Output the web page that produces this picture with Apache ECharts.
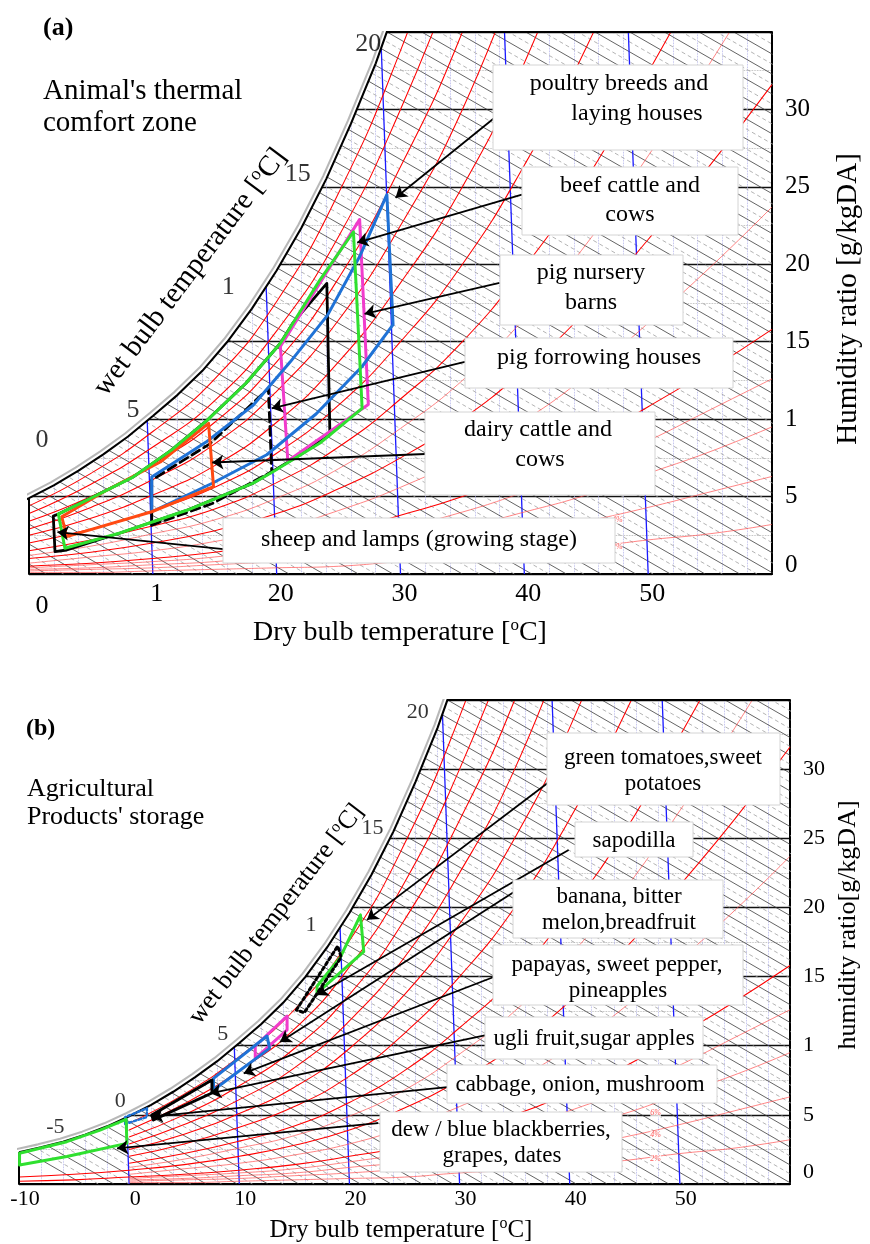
<!DOCTYPE html>
<html><head><meta charset="utf-8">
<script src="https://cdn.jsdelivr.net/npm/echarts@6.0.0/dist/echarts.min.js"></script>
<style>html,body{margin:0;padding:0;background:#fff;}#chart{width:870px;height:1244px;}</style>
</head><body><div id="chart"></div>
<script>
// ================= DATA =================
// saturation curve of the chart: dry bulb [°C] -> humidity ratio [g/kgDA]
const satT = [-10,-8,-6,-4,-2,0,2,4,6,8,10,12,14,16,18,20,22,24,26,28,30];
const satW = [2.3,2.65,3.06,3.57,4.17,4.9,5.72,6.67,7.73,8.88,10.2,11.57,13.12,14.98,17.14,19.6,22.36,25.5,29.08,32.98,37.5];
const satTopT = 28.9;                 // where the saturation curve meets the top frame

// relative humidity curves (red); most start at 0 °C, two run on below freezing
const rhT   = [0,5,10,15,20,25,30,35,40,45,50,55,60];
const rhTlo = [-10,-5,0,5,10,15,20,25,30,35,40,45,50,55,60];
const rh90 = [4.4,6.5,9.2,12.6,17.6,24.6,33.8,45];
const rh80 = [3.9,5.8,8.2,11.2,15.7,21.8,30.0,40];
const rh70 = [3.4,5.0,7.1,9.8,13.7,19.1,26.3,35,46];
const rh60 = [2.9,4.3,6.1,8.4,11.8,16.4,22.5,30,40];
const rh50 = [2.5,3.6,5.1,7.0,9.8,13.7,18.8,25,33,43];
const rh40 = [2.0,2.9,4.1,5.6,7.8,10.9,15.0,20,26.4,34,43];
const rh30 = [1.5,2.2,3.1,4.2,5.9,8.2,11.3,15,19.8,25.5,32.4,39.6];
const rh25 = [1.2,1.8,2.6,3.5,4.9,6.8,9.4,12.5,16.5,21.3,27,33,39.5];
const rh20 = [0.5,0.7,1.0,1.4,2.0,2.8,3.9,5.5,7.5,10,13.2,17,21.6,26.4,31.6];
const rh15 = [0.7,1.1,1.5,2.1,2.9,4.1,5.6,7.5,9.9,12.8,16.2,19.8,23.7];
const rh10 = [0.2,0.3,0.5,0.7,1.0,1.4,2.0,2.7,3.8,5.0,6.6,8.5,10.8,13.2,15.8];
const rh8  = [0.4,0.6,0.8,1.1,1.6,2.2,3.0,4.0,5.3,6.8,8.6,10.6,12.6];
const rh6  = [0.3,0.4,0.6,0.8,1.2,1.6,2.3,3.0,4.0,5.1,6.5,7.9,9.5];
const rh4  = [0.2,0.3,0.4,0.6,0.8,1.1,1.5,2.0,2.6,3.4,4.3,5.3,6.3];
const rh2  = [0.1,0.1,0.2,0.3,0.4,0.5,0.8,1.0,1.3,1.7,2.2,2.6,3.2];

// wet bulb / enthalpy lines: slope [g/kg per °C] and dry bulb where each meets w = 0
const wbSlope = 0.46;
const wbSolidT0 = [-4.2,-1.4,1.4,4.2,7,9.8,12.6,15.4,18.2,21,23.8,26.6,29.4,32.2,35,37.8,40.6,43.4,46.2,49,51.8,54.6,57.4,60.2,63,65.8,68.6,71.4,74.2,77,79.8,82.6,85.4,88.2,91,93.8,96.6,99.4,102.2,105,107.8,110.6,113.4,116.2,119,121.8,124.6,127.4,130.2,133,135.8,138.6];
const wbDashT0 = [-2.8,0,2.8,5.6,8.4,11.2,14,16.8,19.6,22.4,25.2,28,30.8,33.6,36.4,39.2,42,44.8,47.6,50.4,53.2,56,58.8,61.6,64.4,67.2,70,72.8,75.6,78.4,81.2,84,86.8,89.6,92.4,95.2,98,100.8,103.6,106.4,109.2,112,114.8,117.6,120.4,123.2,126,128.8,131.6,134.4,137.2];

// dry bulb lines (blue), slightly leaning: bottom temperature and shift at the top
const dryBulbT = [0,10,20,30,40,50];
const dryBulbLean = 1.6;

// ---- (a) animal comfort zones [dry bulb °C, humidity ratio g/kg] ----
const zoneSheepA   = [[1.96,3.74],[2.1,1.44],[3.05,1.55],[7.35,2.65],[12.8,4.13],[18.1,5.87],[21.9,7.7],[24.3,8.99],[24.05,18.77],[21.3,16.2],[20.3,14.9],[17.5,12.3],[14.4,9.94],[11.5,8.0],[8.4,6.26],[5,4.9],[2.37,3.87]];
const zoneForrowA  = [[9.91,3.16],[14.8,4.55],[19.6,6.6],[19.33,11.99],[14.6,8.4],[9.91,6.07]];
const zoneNurseryA = [[20.3,14.7],[20.9,7.3],[27.4,10.95],[26.7,22.9]];
const zonePoultryA = [[9.91,6.26],[14.3,8.52],[18.1,10.9],[21.1,13.7],[24.1,16.7],[26.7,20.5],[28.9,24.5],[29.4,16.1],[26.9,13.4],[23.2,10.35],[19.2,7.7],[14.8,5.86],[9.91,4.02]];
const zoneDairyA   = [[2.64,3.7],[3.05,2.41],[9.91,4.02],[14.9,5.64],[14.5,9.73],[10.6,7.23],[6.3,5.42]];
const zoneBeefA    = [[2.37,3.87],[5,4.9],[8.4,6.26],[11.5,8.0],[14.4,9.94],[17.5,12.3],[20.3,14.9],[23.5,19.0],[26.2,22.1],[26.7,14.0],[26.9,10.7],[23.5,8.46],[19.7,6.6],[18.1,5.87],[12.8,4.13],[7.35,2.65],[2.9,1.66]];

// ---- (b) storage zones ----
const zoneTomatoB  = [[21.0,19.45],[21.3,16.8],[17.06,13.8],[17.06,14.3],[19.18,16.4]];
const zoneSapoB    = [[15.18,12.58],[18.94,17.21],[19.25,16.39],[15.9,12.39]];
const zoneBananaB  = [[11.45,9.09],[11.45,9.98],[14.34,12.15],[14.34,11.14]];
const zonePapayaB  = [[7.66,6.8],[7.66,7.64],[12.52,10.7],[12.75,9.81]];
const zoneUgliB    = [[2.2,4.63],[2.06,4.99],[7.52,7.52],[7.52,6.58]];
const zoneCabbageB = [[-0.36,4.34],[-0.36,4.84],[1.61,5.47],[1.61,4.84]];
const zoneDewB     = [[-9.95,1.37],[-9.95,2.22],[-5.66,3.06],[-2.64,3.9],[-0.27,4.68],[-0.21,2.94],[-5.66,1.99]];

// tick labels
const xTicksA = {0:'0',10:'1',20:'20',30:'30',40:'40',50:'50'};
const yTicksA = {0:'0',5:'5',10:'1',15:'15',20:'20',25:'25',30:'30'};
const xTicksB = {'-10':'-10',0:'0',10:'10',20:'20',30:'30',40:'40',50:'50'};
const yTicksB = {0:'0',5:'5',10:'1',15:'15',20:'20',25:'25',30:'30'};

// ================= ANNOTATION LAYOUT =================
const FONT = "'Liberation Serif','Times New Roman',serif";
// wet bulb numbers along the saturation curve [text, T, w]
const wbLabelsA = [['20',27.4,34.2],['15',21.7,25.8],['1',16.1,18.5],['5',8.4,10.6],['0',1.05,8.65]];
const wbLabelsB = [['20',26.2,34.1],['15',22.1,25.7],['1',16.5,18.7],['5',8.5,10.8],['0',-0.8,6.0],['-5',-6.7,4.1]];
const rhTagsA = [['2%',47.5,1.75],['4%',47.5,3.5]];
const rhTagsB = [['2%',47.8,1.8],['4%',47.8,3.54],['6%',47.8,5.13]];
// arrows [from, to] in chart coordinates
const arrowsA = [[[37.5,29.4],[29.6,24.3]],[[39.8,24.5],[26.5,21.4]],[[38.0,18.8],[27.1,16.8]],[[35.2,13.7],[19.6,10.7]],[[32.0,7.75],[14.8,7.2]],[[15.7,1.6],[2.3,2.7]]];
const arrowsB = [[[38.0,29.0],[21.6,19.1]],[[39.9,24.15],[17.06,13.67]],[[34.9,21.1],[13.7,10.27]],[[33.1,14.97],[10.4,8.0]],[[32.4,10.77],[7.36,6.56]],[[28.9,7.0],[2.06,4.87]],[[22.6,4.4],[-1.1,2.58]]];

const chart = echarts.init(document.getElementById('chart'), null, {renderer:'canvas'});

const rhSets = [[rh90,1,rhT],[rh80,1,rhT],[rh70,1,rhT],[rh60,1,rhT],[rh50,1,rhT],[rh40,1,rhT],[rh30,1,rhT],[rh25,0,rhT],[rh20,1,rhTlo],[rh15,0,rhT],[rh10,1,rhTlo],[rh8,0,rhT],[rh6,0,rhT],[rh4,0,rhT],[rh2,0,rhT]];

function panelSeries(pi, xmin, xmax, zones, wbLabels, rhTags, arrows, lblSize){
  const ax = {xAxisIndex:pi, yAxisIndex:pi};
  const S = [];
  rhSets.forEach(function(s){
    const vals = s[0], temps = s[2];
    S.push(Object.assign({type:'line', silent:true, animation:false, symbol:'none', smooth:0.5, z:2,
      data: vals.map(function(v,k){return [temps[k], v];}),
      lineStyle:{color: s[1] ? '#ff0000' : '#ff5050', width: s[1] ? 1.05 : 0.7}}, ax));
  });
  S.push(Object.assign({type:'lines', coordinateSystem:'cartesian2d', silent:true, animation:false, clip:true, z:2,
    lineStyle:{color:'#a0a0a0', width:0.8, type:[4,3], opacity:1},
    data: wbDashT0.map(function(t){return {coords:[[t,0],[t-40/wbSlope,40]]};})}, ax));
  S.push(Object.assign({type:'lines', coordinateSystem:'cartesian2d', silent:true, animation:false, clip:true, z:2,
    lineStyle:{color:'#3c3c3c', width:0.8, opacity:1},
    data: wbSolidT0.map(function(t){return {coords:[[t,0],[t-40/wbSlope,40]]};})}, ax));
  S.push(Object.assign({type:'lines', coordinateSystem:'cartesian2d', silent:true, animation:false, clip:true, z:2,
    lineStyle:{color:'#1a1aff', width:1.3, opacity:1},
    data: dryBulbT.map(function(t){return {coords:[[t,0],[t-dryBulbLean,35]]};})}, ax));
  // white cover above the saturation curve
  S.push(Object.assign({type:'custom', coordinateSystem:'cartesian2d', silent:true, animation:false, clip:false, z:3,
    data:[[xmin,0]],
    renderItem:function(params, api){
      const pts = [];
      for (let k=0;k<satT.length;k++){ if (satT[k]>=xmin && satW[k]<=35) pts.push(api.coord([satT[k], satW[k]])); }
      pts.push(api.coord([satTopT,35]));
      pts.push(api.coord([satTopT+0.5,36]));
      pts.push(api.coord([xmin-1,36]));
      pts.push(api.coord([xmin-1,satW[satT.indexOf(xmin)]]));
      return {type:'polygon', shape:{points:pts}, style:{fill:'#fff'}};
    }}, ax));
  // saturation curve (double line)
  S.push(Object.assign({type:'line', silent:true, animation:false, symbol:'none', z:4,
    data: satT.map(function(t,k){return [t, satW[k]];}),
    lineStyle:{color:'#000', width:2.1, shadowColor:'rgba(0,0,0,0.28)', shadowBlur:0, shadowOffsetX:-3, shadowOffsetY:-3}}, ax));
  // frame parts not drawn by the axes
  S.push(Object.assign({type:'lines', coordinateSystem:'cartesian2d', silent:true, animation:false, clip:false, z:4,
    lineStyle:{color:'#000', width:2, opacity:1},
    data:[{coords:[[satTopT,35],[xmax,35]]},{coords:[[xmin,0],[xmin,satW[satT.indexOf(xmin)]]]}]}, ax));
  // wet bulb numbers
  S.push(Object.assign({type:'scatter', silent:true, animation:false, z:8, symbolSize:1, itemStyle:{color:'rgba(0,0,0,0)'},
    label:{show:true, position:'inside', formatter:function(p){return p.name;}, color:'#000', fontSize:lblSize, fontFamily:FONT},
    data: wbLabels.map(function(l){return {name:l[0], value:[l[1],l[2]]};})}, ax));
  S.push(Object.assign({type:'scatter', silent:true, animation:false, z:5, symbolSize:1, itemStyle:{color:'rgba(0,0,0,0)'},
    label:{show:true, position:'inside', formatter:function(p){return p.name;}, color:'#ff3030', fontSize:8, fontStyle:'italic', fontFamily:FONT, backgroundColor:'#fff'},
    data: rhTags.map(function(l){return {name:l[0], value:[l[1],l[2]]};})}, ax));
  // zones
  zones.forEach(function(z){
    S.push(Object.assign({type:'line', silent:true, animation:false, symbol:'none', z:6,
      data: z.closed ? z.pts.concat([z.pts[0]]) : z.pts,
      lineStyle:{color:z.color, width:z.width||3, type:z.type||'solid', join:'round', cap:'round'}}, ax));
  });
  // arrows
  S.push(Object.assign({type:'lines', coordinateSystem:'cartesian2d', silent:true, animation:false, clip:false, z:7,
    symbol:['none','arrow'], symbolSize:11,
    lineStyle:{color:'#000', width:1.8, opacity:1},
    data: arrows.map(function(a){return {coords:[a[0],a[1]]};})}, ax));
  return S;
}

const BLUE='#1f72d6', GREEN='#2fe02f', MAG='#f03ccc', ORANGE='#ff4a12';
const zonesA = [
  {pts:zoneSheepA, color:'#000', closed:true, width:2.8},
  {pts:zoneForrowA, color:'#000', type:[9,5], closed:false, width:2.8},
  {pts:[zoneForrowA[zoneForrowA.length-1], zoneForrowA[0]], color:'#000', closed:false, width:2.8},
  {pts:zoneNurseryA, color:MAG, closed:true},
  {pts:zonePoultryA, color:BLUE, closed:true},
  {pts:zoneDairyA, color:ORANGE, closed:true},
  {pts:zoneBeefA, color:GREEN, closed:true}
];
const zonesB = [
  {pts:zoneTomatoB, color:GREEN, closed:true},
  {pts:zoneSapoB, color:'#000', type:'dotted', closed:true, width:3},
  {pts:zoneBananaB, color:MAG, closed:true},
  {pts:zonePapayaB, color:BLUE, closed:true},
  {pts:zoneUgliB, color:'#000', closed:true},
  {pts:zoneCabbageB, color:BLUE, type:'dotted', closed:true, width:2.5},
  {pts:zoneDewB, color:GREEN, closed:true}
];

function xAxisCfg(pi, min, ticks, fontSize, shiftZero){
  return {type:'value', gridIndex:pi, min:min, max:60, interval:10,
    axisLine:{show:true, onZero:false, lineStyle:{color:'#000', width:2}},
    axisTick:{show:false},
    splitLine:{show:false},
    minorTick:{show:false, splitNumber:5},
    minorSplitLine:{show:true, lineStyle:{color:'#a9a9e8', width:0.8, type:'dotted'}},
    axisLabel:{margin: pi===0?7:4, color:'#000', fontSize:fontSize, fontFamily:FONT, padding:[0,0,0,pi===0?8:12],
      formatter:function(v){ const t = ticks[v]; if (t===undefined) return ''; return (shiftZero && v===0) ? '{z|0}' : t; },
      rich:{z:{fontSize:fontSize, fontFamily:FONT, color:'#000', padding:[12,0,0,18]}}}
  };
}
function yAxisCfg(pi, ticks, fontSize, zeroPad){
  return {type:'value', gridIndex:pi, min:0, max:35, interval:5, position:'right',
    axisLine:{show:true, onZero:false, lineStyle:{color:'#000', width:2}},
    axisTick:{show:false},
    splitLine:{show:true, lineStyle:{color:'#111', width:1.3}},
    minorTick:{show:false, splitNumber:2},
    minorSplitLine:{show:true, lineStyle:{color:'#aaaaaa', width:0.8, type:'dotted'}},
    axisLabel:{margin:13, color:'#000', fontSize:fontSize, fontFamily:FONT,
      formatter:function(v){ const t = ticks[v]; if (t===undefined) return ''; return v===0 ? '{z|0}' : t; },
      rich:{z:{fontSize:fontSize, fontFamily:FONT, color:'#000', padding:[0,0,zeroPad,0]}}}
  };
}

// ---------- graphic (text boxes & titles) ----------
const G = [];
function txt(s, x, y, size, opts){
  opts = opts || {};
  G.push({type:'text', x:x, y:y, rotation: opts.rot || 0, z:20, silent:true,
    style:{text:s, fontSize:size, fontFamily:FONT, fontWeight: opts.bold ? 'bold' : 'normal', fill:'#000',
      align: opts.align || 'center', verticalAlign:'middle', textAlign: opts.align || 'center', textVerticalAlign:'middle',
      rich:{s:{fontSize:Math.round(size*0.62), fontFamily:FONT, fill:'#000', verticalAlign:'bottom', padding:[0,0,Math.round(size*0.42),0]},
            n:{fontSize:size, fontFamily:FONT, fill:'#000', verticalAlign:'bottom'}}}});
}
function box(x1,y1,x2,y2,lines,size){
  G.push({type:'rect', z:19, silent:true, shape:{x:x1, y:y1, width:x2-x1, height:y2-y1}, style:{fill:'#fff', stroke:'#d4d4d4', lineWidth:1}});
  lines.forEach(function(l){ txt(l[0], l[1], l[2], size); });
}
// panel (a)
txt('(a)', 43, 28, 26, {bold:true, align:'left'});
txt("Animal's thermal", 43, 91, 29, {align:'left'});
txt('comfort zone', 43, 123, 29, {align:'left'});
box(493,65,743,150,[['poultry breeds and',619,84],['laying houses',637,114]],24);
box(522,167,738,235,[['beef cattle and',630,186],['cows',630,215]],24);
box(500,255,683,325,[['pig nursery',591,273],['barns',591,303]],24);
box(465,338,733,388,[['pig forrowing houses',599,358]],24);
box(425,412,655,495,[['dairy cattle and',538,430],['cows',540,460]],24);
box(223,518,615,563,[['sheep and lamps (growing stage)',419,540]],24);
txt('{n|Dry bulb temperature [}{s|o}{n|C]}', 400, 632, 28);
txt('{n|Humidity ratio [g/kgDA]}', 848, 299, 29, {rot:Math.PI/2});
txt('{n|wet bulb temperature [}{s|o}{n|C]}', 190, 272, 29, {rot:53*Math.PI/180});
// panel (b)
txt('(b)', 26, 729, 24, {bold:true, align:'left'});
txt('Agricultural', 27, 789, 26, {align:'left'});
txt("Products' storage", 27, 817, 26, {align:'left'});
box(547,733,780,805,[['green tomatoes,sweet',663,758],['potatoes',663,784]],23);
box(575,822,693,857,[['sapodilla',634,841]],23);
box(513,880,723,938,[['banana, bitter',619,897],['melon,breadfruit',619,923]],23);
box(493,945,743,1005,[['papayas, sweet pepper,',617,965],['pineapples',618,991]],23);
box(485,1017,703,1059,[['ugli fruit,sugar apples',594,1039]],23);
box(447,1065,717,1103,[['cabbage, onion, mushroom',580,1085]],23);
box(380,1112,622,1172,[['dew / blue blackberries,',501,1130],['grapes, dates',502,1156]],23);
txt('{n|Dry bulb temperature [}{s|o}{n|C]}', 401, 1229, 25);
txt('{n|humidity ratio[g/kgDA]}', 848, 925, 26, {rot:Math.PI/2});
txt('{n|wet bulb temperature [}{s|o}{n|C]}', 276, 914, 26, {rot:52.4*Math.PI/180});

const option = {
  backgroundColor:'#fff',
  animation:false,
  grid:[
    {left:29, top:32, width:743, height:542, outerBoundsMode:'none', containLabel:false},
    {left:19, top:700, width:771, height:484, outerBoundsMode:'none', containLabel:false}
  ],
  xAxis:[ xAxisCfg(0, 0, xTicksA, 26, true), xAxisCfg(1, -10, xTicksB, 22, false) ],
  yAxis:[ yAxisCfg(0, yTicksA, 25, 18), yAxisCfg(1, yTicksB, 22, 24) ],
  series: panelSeries(0, 0, 60, zonesA, wbLabelsA, rhTagsA, arrowsA, 26)
          .concat(panelSeries(1, -10, 60, zonesB, wbLabelsB, rhTagsB, arrowsB, 22)),
  graphic:{elements:G}
};
chart.setOption(option);
</script>
</body></html>
